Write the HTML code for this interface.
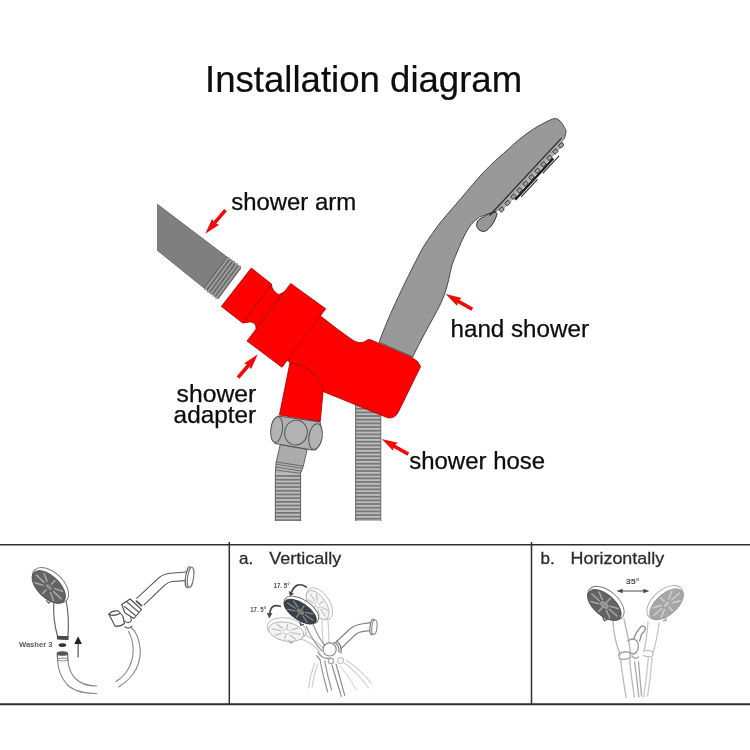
<!DOCTYPE html>
<html>
<head>
<meta charset="utf-8">
<title>Installation diagram</title>
<style>
  html, body { margin: 0; padding: 0; background: #ffffff; }
  body { width: 750px; height: 750px; overflow: hidden; font-family: "Liberation Sans", sans-serif; }
  svg { display: block; }
  text { font-family: "Liberation Sans", sans-serif; }
</style>
</head>
<body>
<svg width="750" height="750" viewBox="0 0 750 750">
  <defs>
    <pattern id="hoseR" x="355" y="426.15" width="26" height="3.667" patternUnits="userSpaceOnUse">
      <rect x="0" y="0" width="26" height="3.667" fill="#bcbcbc"/>
      <rect x="0" y="0" width="26" height="1.7" fill="#747474"/>
    </pattern>
    <pattern id="hoseL" x="275" y="475.1" width="26" height="3.69" patternUnits="userSpaceOnUse">
      <rect x="0" y="0" width="26" height="3.69" fill="#bcbcbc"/>
      <rect x="0" y="0" width="26" height="1.7" fill="#747474"/>
    </pattern>
    <filter id="soft2" x="-5%" y="-20%" width="110%" height="140%"><feGaussianBlur stdDeviation="0.35"/></filter>
    <filter id="soft" x="-5%" y="-5%" width="110%" height="110%"><feGaussianBlur stdDeviation="0.45"/></filter>
    <!-- shower head face, long axis horizontal, centred on origin -->
    <g id="headDark">
      <ellipse cx="0" cy="-2.6" rx="23.2" ry="13.6" fill="#ffffff" stroke="#7a7a7a" stroke-width="1"/>
      <ellipse cx="0" cy="0" rx="21.8" ry="11.8" fill="#636363" stroke="#4a4a4a" stroke-width="0.8"/>
      <g stroke="#a9a9a9" stroke-width="1.6" stroke-linecap="round">
        <path d="M-18 0H-7M18 0H7M0 -9.6V-4M0 9.6V4M-13.5 -7L-5.5 -3M13.5 -7L5.5 -3M-13.5 7L-5.5 3M13.5 7L5.5 3"/>
      </g>
      <ellipse cx="0" cy="0" rx="4.6" ry="2.6" fill="#8f8f8f"/>
    </g>
    <g id="headGhost">
      <ellipse cx="0" cy="-2.4" rx="20.5" ry="11.4" fill="#ffffff" stroke="#b4b4b4" stroke-width="0.9"/>
      <ellipse cx="0" cy="0" rx="18.6" ry="9.4" fill="#f4f4f4" stroke="#b0b0b0" stroke-width="0.9"/>
      <g stroke="#bdbdbd" stroke-width="1.2" stroke-linecap="round">
        <path d="M-15 0H-6M15 0H6M0 -7.6V-3.4M0 7.6V3.4M-11 -5.6L-4.6 -2.6M11 -5.6L4.6 -2.6M-11 5.6L-4.6 2.6M11 5.6L4.6 2.6"/>
      </g>
      <ellipse cx="0" cy="0" rx="3.8" ry="2.1" fill="#ffffff" stroke="#bdbdbd" stroke-width="0.8"/>
    </g>
  </defs>
  <rect x="0" y="0" width="750" height="750" fill="#ffffff"/>

  <!-- Title -->
  <text id="title" x="205" y="91.7" font-size="36.6" fill="#0a0a0a" stroke="#0a0a0a" stroke-width="0.2" filter="url(#soft2)">Installation diagram</text>

  <!-- ===== MAIN DIAGRAM ===== -->
  <g id="main">
    <!-- right hose -->
    <rect x="355.6" y="404" width="25.2" height="117" fill="url(#hoseR)"/>
    <path d="M355.6 404V521M380.8 404V521" stroke="#6a6a6a" stroke-width="1" fill="none"/>

    <!-- left hose -->
    <path d="M275.3 473.2 L300.6 473.2 L300.6 521 L275.3 521 Z" fill="url(#hoseL)"/>
    <path d="M276.2 462 L303.3 466.2 L300.6 473.6 L275.3 473.6 Z" fill="#b4b4b4"/>
    <path d="M276 464.2 L302.6 468.4 M275.7 467 L301.6 471 M275.4 470 L300.8 473.4" stroke="#666" stroke-width="0.9" fill="none"/>
    <path d="M276.2 462 L275.3 473.2 V521 M303.3 466.2 L300.6 473.2 V521" stroke="#5e5e5e" stroke-width="1" fill="none"/>
    <!-- fitting -->
    <path d="M280.2 444.6 L307.2 449.4 L303.3 466.2 L276.2 462 Z" fill="#acacac" stroke="#5a5a5a" stroke-width="0.9"/>
    <!-- nut -->
    <path d="M278 416 L320 422 Q324.5 435 316 449.8 L312 450 L275 443.5 Q268.5 433 273 421 Q275 417 278 416 Z" fill="#b0b0b0" stroke="#555" stroke-width="1"/>
    <ellipse cx="276.6" cy="429.6" rx="5.8" ry="13" transform="rotate(7 276.6 429.6)" fill="#b3b3b3" stroke="#555" stroke-width="1"/>
    <ellipse cx="296" cy="432.6" rx="11.3" ry="12.4" transform="rotate(8 296 432.6)" fill="#b3b3b3" stroke="#555" stroke-width="1"/>
    <ellipse cx="315.6" cy="436.6" rx="6.6" ry="13" transform="rotate(9 315.6 436.6)" fill="#b3b3b3" stroke="#555" stroke-width="1"/>

    <!-- shower arm -->
    <path d="M157 204 L227 257 L204 288 L157 250 Z" fill="#7f7f7f"/>
    <path d="M157 204 L227 257 M204 288 L157 250" stroke="#5c5c5c" stroke-width="0.8" fill="none"/>
    <path d="M227.1 256.8 L229.3 256.9 L229.9 259.0 L232.1 259.0 L232.7 261.1 L234.9 261.1 L235.5 263.2 L237.7 263.2 L238.3 265.3 L240.5 265.4 L241.1 267.5 L217.9 298.8 L215.7 298.8 L215.1 296.7 L212.9 296.6 L212.3 294.5 L210.1 294.5 L209.5 292.4 L207.3 292.4 L206.7 290.3 L204.5 290.3 L203.9 288.2 Z" fill="#8f8f8f"/>
    <path d="M227.0 257.0 L204.0 288.0 M229.8 259.1 L206.8 290.1 M232.6 261.3 L209.6 292.3 M235.4 263.4 L212.4 294.4 M238.2 265.5 L215.2 296.5 M241.0 267.6 L218.0 298.6 " stroke="#5f5f5f" stroke-width="1.1" fill="none"/>
    <path d="M229.1 257.1 L204.7 290.0 M231.9 259.2 L207.5 292.1 M234.7 261.4 L210.3 294.3 M237.5 263.5 L213.1 296.4 M240.3 265.6 L215.9 298.5 " stroke="#a4a4a4" stroke-width="1" fill="none"/>

    <!-- hand shower -->
    <path id="hs" d="M379.1 342.3 C380.0 339.9 382.4 333.2 384.7 327.7 C387.0 322.1 389.6 315.9 392.7 309.0 C395.8 302.1 399.8 293.6 403.3 286.3 C406.8 279.0 410.4 271.8 413.7 265.3 C417.0 258.9 419.9 252.9 423.0 247.6 C426.1 242.3 429.2 238.1 432.3 233.6 C435.4 229.1 438.6 224.7 441.7 220.8 C444.8 216.9 447.8 213.8 451.0 210.0 C454.2 206.2 457.4 202.6 461.0 198.3 C464.6 194.1 469.0 188.8 472.7 184.5 C476.4 180.2 479.8 176.4 483.3 172.6 C486.9 168.8 491.2 164.6 494.0 161.9 C496.8 159.2 497.7 158.6 500.0 156.5 C502.3 154.4 504.9 152.3 507.9 149.6 C510.9 146.9 514.6 143.2 518.0 140.4 C521.4 137.6 525.0 135.0 528.0 132.8 C531.0 130.7 532.7 129.5 536.0 127.5 C539.3 125.5 544.8 122.5 548.0 121.0 C551.2 119.5 553.2 118.6 555.2 118.6 C557.2 118.6 558.4 119.4 560.0 121.0 C561.6 122.6 563.8 126.4 564.8 128.2 C565.8 129.9 566.1 129.8 566.0 131.5 C565.9 133.2 564.7 137.4 564.4 138.6 L497.6 210.6 L485.7 215.1 C484.8 215.4 481.8 216.1 480.1 216.9 C478.4 217.8 477.1 218.9 475.5 220.2 C473.9 221.5 472.4 222.9 470.8 224.9 C469.2 226.9 467.7 229.5 466.1 232.3 C464.6 235.1 463.1 238.3 461.5 241.7 C459.9 245.1 458.4 249.0 456.8 252.9 C455.2 256.8 453.4 260.5 452.0 265.0 C450.6 269.5 449.9 274.9 448.7 279.7 C447.5 284.5 446.3 289.3 444.7 293.7 C443.1 298.1 441.8 301.3 439.3 306.3 C436.9 311.3 433.1 317.9 430.0 323.7 C426.9 329.5 423.6 335.4 420.7 341.0 C417.8 346.6 414.0 354.3 412.7 357.0 Z" fill="#999999" stroke="#3a3a3a" stroke-width="0.9" stroke-linejoin="round"/>
    <!-- lever -->
    <path d="M480 217 Q476 220 474.8 225 L481 218.4 Z" fill="#ffffff" stroke="none"/>
    <path d="M485.7 215.1 C486.8 214.7 490.4 213.0 492.3 212.7 C494.2 212.4 496.4 212.1 496.9 213.2 C497.4 214.3 496.0 217.2 495.1 219.3 C494.2 221.4 492.9 223.9 491.3 225.8 C489.7 227.7 487.4 230.1 485.7 230.9 C484.0 231.8 482.5 231.4 481.1 230.9 C479.7 230.4 478.0 229.0 477.3 227.7 C476.6 226.4 476.6 224.4 476.9 223.0 C477.2 221.6 478.0 220.3 479.2 219.3 C480.4 218.3 482.8 217.6 483.9 216.9 C485.0 216.2 485.4 215.4 485.7 215.1 Z" fill="#979797" stroke="#2c2c2c" stroke-width="1" stroke-linejoin="round"/>
    <!-- nozzles (local frame along the outer rim of the face) -->
    <g transform="translate(497.6 210.6) rotate(-47.15)">
      <path d="M-1 -2 L97 -2 L97.6 0 L-0.5 0 Z" fill="#a8a8a8" stroke="none"/>
      <path d="M1 0 L95 0 L94 3.6 L4 3.6 Z" fill="#b2b2b2" stroke="none"/>
      <path d="M-9 -2.5 L97 -2.5" stroke="#262626" stroke-width="1.15" fill="none"/>
      <path d="M20 5.4H76" stroke="#1e1e1e" stroke-width="2.4" fill="none"/>
      <path d="M26 8H50 M58 7.8H82" stroke="#2a2a2a" stroke-width="1.1" fill="none"/>
      <g fill="#a2a2a2" stroke="#2c2c2c" stroke-width="0.9">
        <rect x="1.2" y="0.4" width="4.6" height="3.6" rx="1.1"/>
        <rect x="10.0" y="0.4" width="4.6" height="3.6" rx="1.1"/>
        <rect x="18.8" y="0.4" width="4.6" height="3.6" rx="1.1"/>
        <rect x="27.6" y="0.4" width="4.6" height="3.6" rx="1.1"/>
        <rect x="36.4" y="0.4" width="4.6" height="3.6" rx="1.1"/>
        <rect x="45.2" y="0.4" width="4.6" height="3.6" rx="1.1"/>
        <rect x="54.0" y="0.4" width="4.6" height="3.6" rx="1.1"/>
        <rect x="62.8" y="0.4" width="4.6" height="3.6" rx="1.1"/>
        <rect x="71.6" y="0.4" width="4.6" height="3.6" rx="1.1"/>
        <rect x="80.4" y="0.4" width="4.6" height="3.6" rx="1.1"/>
        <rect x="88.7" y="0.4" width="4.6" height="3.6" rx="1.1"/>
      </g>
    </g>

    <!-- red adapter -->
    <g fill="#fe0000" stroke="#a40000" stroke-width="0.8" stroke-linejoin="round">
      <!-- lower outlet -->
      <path d="M290 362.5 L279.4 415 L320.3 421.5 L323 392 L323 388 Q318 376 307.7 368.8 Q299 364 290 362.5 Z"/>
      <!-- main body -->
      <path d="M298 336 L316.5 313 L321.5 316.8 L338 329.6 L348 336.8 C352 339.8 355 341.8 358.4 342.4 C361 342.8 363 342.6 364.5 341.8 C366.5 340.6 367.5 339.6 369 339.6 C370.5 339.6 371.5 340.2 372.5 340.6 L411.8 357.4 Q418.8 361 420.6 366.6 L398.5 411.7 Q395 418.6 388.5 417.9 L386.4 417.3 L323 391.5 L323 388 Q318 376 307.7 368.8 Q299 364 290 362.5 L287 360 Z"/>
      <!-- neck -->
      <path d="M271.5 284 Q271.5 291 279 294.7 L284 292 L256 328.5 Q256.5 322.5 250.2 321.9 L242.7 323 Z"/>
      <!-- block 2 -->
      <path d="M290.7 283.5 L325.7 308.8 L282 367.3 L247 341 Z"/>
      <!-- block 1 (nut) -->
      <path d="M251.3 268 L271.5 284 L242.7 323 L221.4 306.4 Z"/>
    </g>

    <!-- arrows -->
    <g fill="#f40808" stroke="none">
      <path d="M0 0 L-15.8 -4.6 L-14.6 -1.8 L-31 -1.8 L-31 1.8 L-14.6 1.8 L-15.8 4.6 Z" transform="translate(205.3 233.7) rotate(130.7)"/>
      <path d="M0 0 L-15.8 -4.6 L-14.6 -1.8 L-30.6 -1.8 L-30.6 1.8 L-14.6 1.8 L-15.8 4.6 Z" transform="translate(257.7 354.3) rotate(-49.9)"/>
      <path d="M0 0 L-15.8 -4.6 L-14.6 -1.8 L-30.6 -1.8 L-30.6 1.8 L-14.6 1.8 L-15.8 4.6 Z" transform="translate(445.7 294.1) rotate(-150.3)"/>
      <path d="M0 0 L-15.8 -4.6 L-14.6 -1.8 L-30.6 -1.8 L-30.6 1.8 L-14.6 1.8 L-15.8 4.6 Z" transform="translate(381.7 439) rotate(-150.3)"/>
    </g>

    <!-- labels -->
    <g font-size="24.6" fill="#0a0a0a" stroke="#0a0a0a" stroke-width="0.25" filter="url(#soft2)">
      <text x="231.2" y="209.8" textLength="125" lengthAdjust="spacingAndGlyphs">shower arm</text>
      <text x="450.5" y="337" textLength="138.5" lengthAdjust="spacingAndGlyphs">hand shower</text>
      <text x="176.6" y="401.6" textLength="79.6" lengthAdjust="spacingAndGlyphs">shower</text>
      <text x="173.6" y="423" textLength="82.6" lengthAdjust="spacingAndGlyphs">adapter</text>
      <text x="409.2" y="469" textLength="136" lengthAdjust="spacingAndGlyphs">shower hose</text>
    </g>
  </g>

  <!-- ===== TABLE ===== -->
  <g id="table" stroke="#2e2e2e" fill="none">
    <path d="M0 544.7H750" stroke-width="1.6"/>
    <path d="M0 704.3H750" stroke-width="2"/>
    <path d="M229.3 542V704" stroke-width="1.5"/>
    <path d="M531.5 542V704" stroke-width="1.5"/>
  </g>
  <g font-size="17" fill="#2c2c36" stroke="#2c2c36" stroke-width="0.3" filter="url(#soft2)">
    <text x="239" y="564.3">a.</text>
    <text x="269.2" y="564.3" textLength="72" lengthAdjust="spacingAndGlyphs">Vertically</text>
    <text x="540.6" y="564.3">b.</text>
    <text x="570.6" y="564.3" textLength="93.6" lengthAdjust="spacingAndGlyphs">Horizontally</text>
  </g>

  <!-- ===== PANEL 1 ===== -->
  <g id="p1" filter="url(#soft)" fill="none" stroke="#626262" stroke-width="1.15" stroke-linecap="round" stroke-linejoin="round">
    <!-- handle -->
    <path d="M53.9 602.5 Q52.5 618 57.6 636.5 L67.9 637 Q69.5 618 66 600 Z" fill="#ffffff"/>
    <path d="M57.4 636.2 L68 636.8 L68 639.4 L57.6 639 Z" fill="#4a4a4a" stroke="#4a4a4a"/>
    <use href="#headDark" transform="translate(48.8 587) rotate(44) scale(0.95 0.93)"/>
    <path d="M46.5 600.5 l2.2 2.6 l1.8 -1.8" stroke="#555"/>
    <!-- washer -->
    <ellipse cx="62.4" cy="645" rx="3.3" ry="1.3" fill="#333" stroke="#333"/>
    <!-- hose connector -->
    <ellipse cx="62.4" cy="653.4" rx="5.2" ry="1.7" fill="#555" stroke="#555"/>
    <path d="M57.2 654 L57.6 660 M67.6 654 L67.9 660" />
    <ellipse cx="62.7" cy="659.6" rx="5.1" ry="1.4" stroke="#999"/>
    <!-- hose -->
    <path d="M57.6 660 Q58 674 67 684.5 Q76 693.5 96.8 693.5" stroke="#8a8a8a"/>
    <path d="M67.9 660 Q68.5 671 75 678 Q82 686 96.8 686" stroke="#8a8a8a"/>
    <!-- arrow -->
    <path d="M78.1 657V642" stroke="#333" stroke-width="1"/>
    <path d="M78.1 636.3 L74.3 644 L81.9 644 Z" fill="#222" stroke="none"/>
    <!-- arm -->
    <path d="M136.7 598.3 L159 577.7 Q164 573.8 170.3 573.3 L186.5 572" stroke="#5a5a5a"/>
    <path d="M144.1 604.8 L164.7 585.2 Q168 582 172.1 581.5 L185.5 580.6" stroke="#5a5a5a"/>
    <ellipse cx="188.6" cy="577.2" rx="3" ry="10.6" transform="rotate(8 188.6 577.2)" fill="#fff" stroke="#666"/>
    <ellipse cx="190.6" cy="577.4" rx="3" ry="10.2" transform="rotate(8 190.6 577.4)" fill="#fff" stroke="#777"/>
    <!-- bracket -->
    <path d="M121.7 604.5 L130.1 599 L141.5 609.5 L134 618.5 L125 613 Z" fill="#fff" stroke="#505050"/>
    <path d="M124.5 606.5 L135.5 615.5 M127 602 L138.5 612" stroke="#5a5a5a"/>
    <path d="M136.5 601.2 l5 4.4" stroke="#555" stroke-width="1.8"/>
    <path d="M108.7 614.1 Q112 610.5 118.5 611 L122.8 616 L124.5 623.5 Q121 626.5 115.2 626.3 Z" fill="#fff" stroke="#505050"/>
    <path d="M109 614.5 Q114 616.5 120 613.5" stroke="#505050"/>
    <path d="M124.5 621 Q129 624.5 131.5 620.5 L130.5 617" stroke="#666"/>
    <!-- hose right -->
    <path d="M131 627.2 Q139 634 140.3 650 Q140.5 664 133 674 Q127 682 118.5 687" stroke="#8a8a8a"/>
    <path d="M128.5 631.5 Q133 639 133.2 651 Q132.8 663 126 672.5 Q121.5 678.5 116 681.5" stroke="#8a8a8a"/>
    <path d="M124.8 626.8 Q128.5 629.6 132.2 626.2" stroke="#666"/>
  </g>
  <text x="19" y="647.4" font-size="6.9" font-weight="bold" fill="#5a5a5a" textLength="33.5" lengthAdjust="spacingAndGlyphs" filter="url(#soft)">Washer 3</text>

  <!-- ===== PANEL 2 ===== -->
  <g id="p2" filter="url(#soft)" fill="none" stroke="#8c8c8c" stroke-width="1.15" stroke-linecap="round" stroke-linejoin="round">
    <!-- ghost handles -->
    <path d="M322 620 Q322 636 324 648 M328 620 Q329 634 329 646" stroke="#cfcfcf"/>
    <path d="M298 638 Q312 642 320 652 M303 634 Q316 640 323 648" stroke="#c4c4c4"/>
    <!-- ghost heads -->
    <use href="#headGhost" transform="translate(317.7 605) rotate(56) scale(0.89)"/>
    <use href="#headGhost" transform="translate(286.3 631.7) rotate(10.7) scale(0.96 1)"/>
    <path d="M289 640.5 l1.4 2.6 l2.6 -1" stroke="#b0b0b0"/>
    <!-- main handle -->
    <path d="M306 626 Q312 640 322 651 M313 624 Q318 638 327 648" stroke="#9a9a9a"/>
    <!-- main dark head -->
    <g transform="translate(300.3 611.6) rotate(34) scale(0.855 0.74)">
      <ellipse cx="0" cy="-2.6" rx="23.2" ry="13.6" fill="#ffffff" stroke="#6a6a6a" stroke-width="1.1"/>
      <ellipse cx="0" cy="0" rx="21.8" ry="11.4" fill="#3a4048" stroke="#30343a" stroke-width="0.8"/>
      <g stroke="#8d8d8d" stroke-width="1.5" stroke-linecap="round">
        <path d="M-18 0H-7M18 0H7M0 -9.2V-4M0 9.2V4M-13.5 -6.8L-5.5 -3M13.5 -6.8L5.5 -3M-13.5 6.8L-5.5 3M13.5 6.8L5.5 3"/>
      </g>
      <ellipse cx="0" cy="0" rx="4.4" ry="2.4" fill="#777"/>
    </g>
    <path d="M300 622.5 l1 3 l2.6 -1.2" stroke="#444"/>
    <!-- angle arrows -->
    <path d="M306.3 587 Q296.5 580.5 291.2 592.6" stroke="#4a4a4a" stroke-width="1.7"/>
    <path d="M290 596.6 L288.6 591 L294 593.4 Z" fill="#4a4a4a" stroke="none"/>
    <path d="M280.3 606.3 Q270.6 603.2 269.6 614.4" stroke="#4a4a4a" stroke-width="1.7"/>
    <path d="M269.2 618.6 L266.8 613 L272.4 613.2 Z" fill="#4a4a4a" stroke="none"/>
    <!-- arm -->
    <path d="M336 642 L350.5 628.5 Q354.5 625 360 624.2 L370.5 622.6" stroke="#808080"/>
    <path d="M341 648.6 L355 635 Q358 632.2 362 631.6 L370 630.6" stroke="#808080"/>
    <ellipse cx="372.6" cy="627" rx="2.6" ry="7.6" transform="rotate(6 372.6 627)" fill="#fff" stroke="#777"/>
    <ellipse cx="374.4" cy="627.2" rx="2.6" ry="7.2" transform="rotate(6 374.4 627.2)" fill="#fff" stroke="#8a8a8a"/>
    <!-- bracket -->
    <circle cx="329.6" cy="649.4" r="6.6" fill="#fff" stroke="#8a8a8a"/>
    <path d="M334 642.4 Q339.5 644.5 339 652 M336.6 641.2 Q342 644.4 341 653" stroke="#777"/>
    <path d="M318 652 Q322 660 331 658 M316.6 655.6 l3.4 4" stroke="#8a8a8a"/>
    <circle cx="331" cy="661" r="2.6" stroke="#a5a5a5"/>
    <circle cx="340.5" cy="660.6" r="3" stroke="#c4c4c4"/>
    <!-- hoses -->
    <path d="M320 660 Q323 676 327.6 692 M324.6 661 Q327.6 676 331.6 690" stroke="#8f8f8f"/>
    <path d="M332 665 Q336.5 681 341.4 696.4 M336 664 Q340.6 680 344.8 695.6" stroke="#8a8a8a"/>
    <path d="M314.6 663 Q310 676 308.6 688 M317.4 664.6 Q313.4 677 312.2 687" stroke="#cdcdcd"/>
    <path d="M343 662 Q357 672 368.6 688 M346 660 Q360 669 372 684" stroke="#d2d2d2"/>
    <path d="M340 666 Q350 678 356 690" stroke="#d9d9d9"/>
  </g>
  <g font-size="7" font-weight="bold" fill="#505050" filter="url(#soft)">
    <text x="273.6" y="588.4" textLength="16" lengthAdjust="spacingAndGlyphs">17. 5°</text>
    <text x="250.2" y="612.4" textLength="16" lengthAdjust="spacingAndGlyphs">17. 5°</text>
  </g>

  <!-- ===== PANEL 3 ===== -->
  <g id="p3" filter="url(#soft)" fill="none" stroke="#a2a2a2" stroke-width="1.3" stroke-linecap="round" stroke-linejoin="round">
    <!-- left handle -->
    <path d="M613 621 Q614 640 620.4 655 M624 619 Q628 636 630.4 651" stroke="#b5b5b5"/>
    <!-- right handle -->
    <path d="M648 621.6 Q647 638 644 651 M659 623 Q657 640 653 653" stroke="#c6c6c6"/>
    <!-- heads -->
    <use href="#headDark" transform="translate(604.4 605) rotate(41) scale(0.93 0.9)"/>
    <path d="M603 617.6 l1.2 3 l2.8 -1" stroke="#555"/>
    <g transform="translate(666.6 604.2) rotate(-41) scale(0.93 0.9)">
      <ellipse cx="0" cy="-2.6" rx="23.2" ry="13.6" fill="#ffffff" stroke="#a9a9a9" stroke-width="1"/>
      <ellipse cx="0" cy="0" rx="21.8" ry="11.8" fill="#a6a6a6" stroke="#949494" stroke-width="0.8"/>
      <g stroke="#d0d0d0" stroke-width="1.6" stroke-linecap="round">
        <path d="M-18 0H-7M18 0H7M0 -9.6V-4M0 9.6V4M-13.5 -7L-5.5 -3M13.5 -7L5.5 -3M-13.5 7L-5.5 3M13.5 7L5.5 3"/>
      </g>
      <ellipse cx="0" cy="0" rx="4.6" ry="2.6" fill="#c4c4c4"/>
    </g>
    <path d="M664.6 617.4 l1.6 2.8 l-2.8 0.6" stroke="#a0a0a0"/>
    <!-- centre bracket -->
    <path d="M633.6 639 Q636 632 640.6 627 Q643.6 624.6 645.6 628 Q645 632 641.6 634 L639.6 641" stroke="#8f8f8f"/>
    <path d="M628 641 Q633 637 637 641 Q640 646 636.6 652 Q633 656 629.6 652" stroke="#9a9a9a"/>
    <path d="M618.6 654 Q624 650.6 629.4 652.4 L630.6 657.4 Q625 660.6 619.4 658.6 Z" stroke="#a5a5a5"/>
    <path d="M643.6 651 Q648 649.6 653 651.6 L652.6 656 Q648 657.6 643.6 655.6" stroke="#c2c2c2"/>
    <path d="M632 656 Q635 660 638.6 657" stroke="#a8a8a8"/>
    <!-- hoses -->
    <path d="M620.6 659 Q623 680 626.2 697.6 M629.6 659 Q631.6 680 634.4 697" stroke="#b9b9b9"/>
    <path d="M634.6 662 Q637 680 638.8 697 M638.6 662 Q640 680 641.6 696" stroke="#a8a8a8"/>
    <path d="M648.4 657 Q646.6 678 643.8 697 M652 657.6 Q650.6 678 647.6 696" stroke="#c9c9c9"/>
    <!-- double arrow -->
    <path d="M620 591H646" stroke="#4a4a4a" stroke-width="1.1"/>
    <path d="M616.6 591 L622.6 588.8 L622.6 593.2 Z M649.4 591 L643.4 588.8 L643.4 593.2 Z" fill="#4a4a4a" stroke="none"/>
  </g>
  <text x="625.8" y="584.4" font-size="7.6" font-weight="bold" fill="#505050" textLength="13.6" lengthAdjust="spacingAndGlyphs" filter="url(#soft)">35°</text>
</svg>
</body>
</html>
